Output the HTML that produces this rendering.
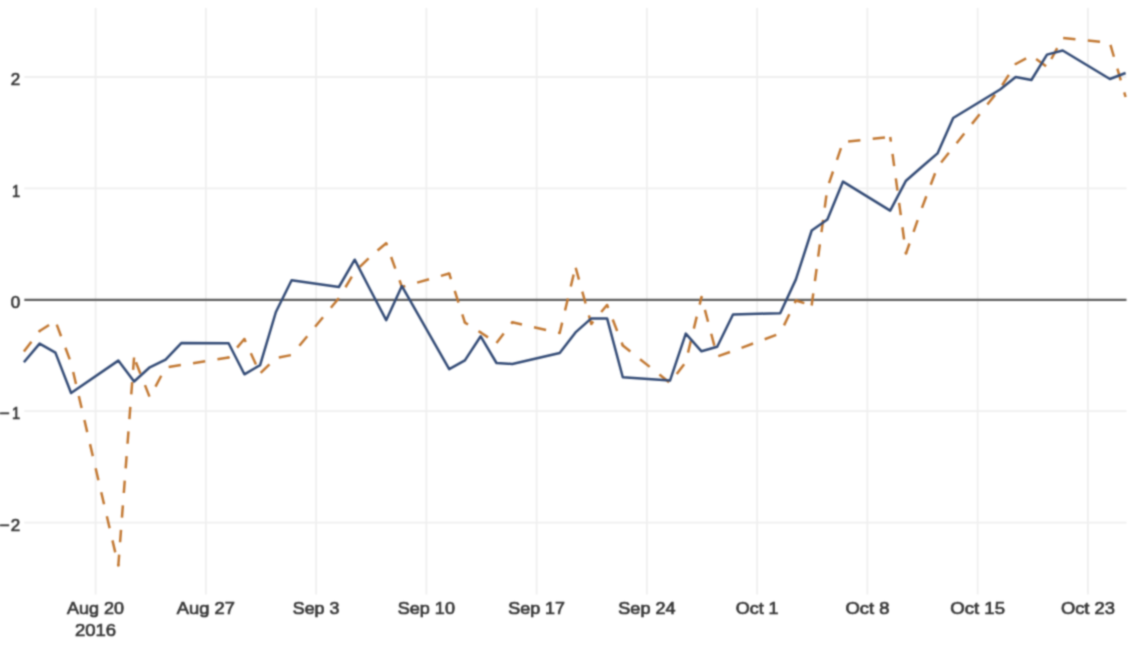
<!DOCTYPE html>
<html><head><meta charset="utf-8"><style>
html,body{margin:0;padding:0;background:#fff;}
body{width:1145px;height:654px;overflow:hidden;}
svg{display:block;}
text{font-family:"Liberation Sans",sans-serif;font-size:17.0px;fill:#383838;stroke:#383838;stroke-width:0.7px;}

</style></head><body>
<svg width="1145" height="654" viewBox="0 0 1145 654">
<defs><filter id="bl" x="0" y="0" width="1145" height="654" filterUnits="userSpaceOnUse" color-interpolation-filters="sRGB"><feConvolveMatrix order="5" kernelMatrix="0.00023 0.00332 0.00809 0.00332 0.00023 0.00332 0.04785 0.11640 0.04785 0.00332 0.00809 0.11640 0.28313 0.11640 0.00809 0.00332 0.04785 0.11640 0.04785 0.00332 0.00023 0.00332 0.00809 0.00332 0.00023" edgeMode="duplicate"/></filter></defs>
<g filter="url(#bl)">
<rect width="1145" height="654" fill="#fff"/>
<line x1="24.3" x2="1126.5" y1="77.0" y2="77.0" stroke="#efefef" stroke-width="1.8"/>
<line x1="24.3" x2="1126.5" y1="188.4" y2="188.4" stroke="#efefef" stroke-width="1.8"/>
<line x1="24.3" x2="1126.5" y1="411.2" y2="411.2" stroke="#efefef" stroke-width="1.8"/>
<line x1="24.3" x2="1126.5" y1="522.6" y2="522.6" stroke="#efefef" stroke-width="1.8"/>
<line x1="95.6" x2="95.6" y1="8.0" y2="594.5" stroke="#efefef" stroke-width="1.8"/>
<line x1="205.86" x2="205.86" y1="8.0" y2="594.5" stroke="#efefef" stroke-width="1.8"/>
<line x1="316.12" x2="316.12" y1="8.0" y2="594.5" stroke="#efefef" stroke-width="1.8"/>
<line x1="426.38" x2="426.38" y1="8.0" y2="594.5" stroke="#efefef" stroke-width="1.8"/>
<line x1="536.64" x2="536.64" y1="8.0" y2="594.5" stroke="#efefef" stroke-width="1.8"/>
<line x1="646.9" x2="646.9" y1="8.0" y2="594.5" stroke="#efefef" stroke-width="1.8"/>
<line x1="757.16" x2="757.16" y1="8.0" y2="594.5" stroke="#efefef" stroke-width="1.8"/>
<line x1="867.42" x2="867.42" y1="8.0" y2="594.5" stroke="#efefef" stroke-width="1.8"/>
<line x1="977.68" x2="977.68" y1="8.0" y2="594.5" stroke="#efefef" stroke-width="1.8"/>
<line x1="1087.94" x2="1087.94" y1="8.0" y2="594.5" stroke="#efefef" stroke-width="1.8"/>
<line x1="24.3" x2="1126.5" y1="299.8" y2="299.8" stroke="#5e5e5e" stroke-width="2.2"/>
<g fill="none" stroke="#c27832" stroke-width="2.5" stroke-dasharray="12.35,12.35">
<path d="M23.90,351.50 L39.64,331.00" stroke-dashoffset="24.69"/>
<path d="M39.64,331.00 L55.37,321.00" stroke-dashoffset="1.17"/>
<path d="M55.37,321.00 L71.11,363.00" stroke-dashoffset="20.80"/>
<path d="M71.11,363.00 L118.32,565.50" stroke-dashoffset="15.50"/>
<path d="M118.32,565.50 L134.06,357.50" stroke-dashoffset="1.38"/>
<path d="M134.06,357.50 L149.82,397.50" stroke-dashoffset="19.67"/>
<path d="M149.82,397.50 L165.58,367.50" stroke-dashoffset="12.50"/>
<path d="M165.58,367.50 L181.34,365.00" stroke-dashoffset="21.59"/>
<path d="M181.34,365.00 L228.61,357.50" stroke-dashoffset="12.86"/>
<path d="M228.61,357.50 L244.37,339.00" stroke-dashoffset="11.65"/>
<path d="M244.37,339.00 L260.13,373.50" stroke-dashoffset="9.13"/>
<path d="M260.13,373.50 L275.89,358.00" stroke-dashoffset="23.96"/>
<path d="M275.89,358.00 L291.65,355.00" stroke-dashoffset="21.76"/>
<path d="M291.65,355.00 L338.92,298.00" stroke-dashoffset="12.65"/>
<path d="M338.92,298.00 L354.68,272.00" stroke-dashoffset="12.12"/>
<path d="M354.68,272.00 L370.43,256.50" stroke-dashoffset="17.49"/>
<path d="M370.43,256.50 L386.18,243.30" stroke-dashoffset="15.45"/>
<path d="M386.18,243.30 L401.93,287.00" stroke-dashoffset="10.10"/>
<path d="M401.93,287.00 L449.18,273.50" stroke-dashoffset="8.87"/>
<path d="M449.18,273.50 L464.93,322.60" stroke-dashoffset="6.48"/>
<path d="M464.93,322.60 L480.68,332.50" stroke-dashoffset="8.68"/>
<path d="M480.68,332.50 L496.48,343.00" stroke-dashoffset="3.56"/>
<path d="M496.48,343.00 L512.28,322.30" stroke-dashoffset="0.41"/>
<path d="M512.28,322.30 L559.68,333.00" stroke-dashoffset="2.40"/>
<path d="M559.68,333.00 L575.47,267.00" stroke-dashoffset="1.65"/>
<path d="M575.47,267.00 L591.27,324.00" stroke-dashoffset="23.88"/>
<path d="M591.27,324.00 L607.07,305.00" stroke-dashoffset="9.17"/>
<path d="M607.07,305.00 L622.81,345.50" stroke-dashoffset="9.18"/>
<path d="M622.81,345.50 L670.02,383.00" stroke-dashoffset="2.67"/>
<path d="M670.02,383.00 L685.76,362.00" stroke-dashoffset="13.53"/>
<path d="M685.76,362.00 L701.50,297.00" stroke-dashoffset="15.07"/>
<path d="M701.50,297.00 L717.23,356.50" stroke-dashoffset="11.40"/>
<path d="M717.23,356.50 L732.97,351.00" stroke-dashoffset="23.55"/>
<path d="M732.97,351.00 L780.18,333.50" stroke-dashoffset="15.58"/>
<path d="M780.18,333.50 L795.92,300.50" stroke-dashoffset="15.74"/>
<path d="M795.92,300.50 L811.66,305.50" stroke-dashoffset="3.51"/>
<path d="M811.66,305.50 L827.39,188.00" stroke-dashoffset="0.04"/>
<path d="M827.39,188.00 L843.03,142.00" stroke-dashoffset="19.62"/>
<path d="M843.03,142.00 L890.24,137.00" stroke-dashoffset="19.58"/>
<path d="M890.24,137.00 L905.98,253.50" stroke-dashoffset="7.69"/>
<path d="M905.98,253.50 L921.72,208.50" stroke-dashoffset="1.74"/>
<path d="M921.72,208.50 L937.45,167.00" stroke-dashoffset="24.02"/>
<path d="M937.45,167.00 L953.19,147.50" stroke-dashoffset="18.85"/>
<path d="M953.19,147.50 L1000.10,88.50" stroke-dashoffset="19.22"/>
<path d="M1000.10,88.50 L1015.74,64.00" stroke-dashoffset="20.86"/>
<path d="M1015.74,64.00 L1031.38,55.50" stroke-dashoffset="0.53"/>
<path d="M1031.38,55.50 L1047.01,67.00" stroke-dashoffset="18.79"/>
<path d="M1047.01,67.00 L1062.65,38.00" stroke-dashoffset="15.59"/>
<path d="M1062.65,38.00 L1109.86,42.80" stroke-dashoffset="24.16"/>
<path d="M1109.86,42.80 L1125.60,97.00" stroke-dashoffset="22.53"/>
<circle cx="39.64" cy="331.00" r="1.250" fill="#c27832" stroke="none"/>
<circle cx="118.32" cy="565.50" r="1.250" fill="#c27832" stroke="none"/>
<circle cx="228.61" cy="357.50" r="1.250" fill="#c27832" stroke="none"/>
<circle cx="244.37" cy="339.00" r="1.250" fill="#c27832" stroke="none"/>
<circle cx="386.18" cy="243.30" r="1.250" fill="#c27832" stroke="none"/>
<circle cx="401.93" cy="287.00" r="1.250" fill="#c27832" stroke="none"/>
<circle cx="449.18" cy="273.50" r="1.250" fill="#c27832" stroke="none"/>
<circle cx="464.93" cy="322.60" r="1.250" fill="#c27832" stroke="none"/>
<circle cx="480.68" cy="332.50" r="1.250" fill="#c27832" stroke="none"/>
<circle cx="512.28" cy="322.30" r="1.250" fill="#c27832" stroke="none"/>
<circle cx="559.68" cy="333.00" r="1.250" fill="#c27832" stroke="none"/>
<circle cx="591.27" cy="324.00" r="1.250" fill="#c27832" stroke="none"/>
<circle cx="607.07" cy="305.00" r="1.250" fill="#c27832" stroke="none"/>
<circle cx="622.81" cy="345.50" r="1.250" fill="#c27832" stroke="none"/>
<circle cx="701.50" cy="297.00" r="1.250" fill="#c27832" stroke="none"/>
<circle cx="795.92" cy="300.50" r="1.250" fill="#c27832" stroke="none"/>
<circle cx="905.98" cy="253.50" r="1.250" fill="#c27832" stroke="none"/>
<circle cx="1015.74" cy="64.00" r="1.250" fill="#c27832" stroke="none"/>
</g>
<path d="M23.9,362.3 L39.6,343.6 L55.4,352.6 L71.1,393.0 L118.3,360.6 L134.1,381.5 L149.8,367.3 L165.6,359.6 L181.3,343.1 L228.6,343.2 L244.4,374.3 L260.1,365.2 L275.9,312.0 L291.6,280.3 L338.9,287.0 L354.7,259.7 L370.4,290.0 L386.2,320.2 L401.9,286.1 L449.2,369.2 L464.9,360.4 L480.7,336.3 L496.5,363.0 L512.3,364.0 L559.7,353.0 L575.5,332.4 L591.3,318.4 L607.1,318.4 L622.8,377.2 L670.0,380.6 L685.8,333.6 L701.5,351.3 L717.2,346.8 L733.0,314.5 L780.2,313.2 L795.9,279.4 L811.7,230.5 L827.4,219.5 L843.0,181.6 L890.2,210.6 L906.0,180.7 L921.7,167.0 L937.5,153.4 L953.2,118.0 L1000.1,89.5 L1015.7,77.0 L1031.4,80.0 L1047.0,54.6 L1062.7,50.5 L1109.9,79.0 L1125.6,73.0" fill="none" stroke="#334b76" stroke-width="2.5" stroke-linejoin="round"/>
<text x="20.3" y="85.2" text-anchor="end">2</text>
<text x="20.3" y="196.6" text-anchor="end" textLength="8.2" lengthAdjust="spacingAndGlyphs">1</text>
<text x="20.3" y="308.0" text-anchor="end">0</text>
<text x="20.3" y="419.4" text-anchor="end" textLength="8.2" lengthAdjust="spacingAndGlyphs">1</text>
<text x="9.6" y="419.4" text-anchor="end">−</text>
<text x="20.3" y="530.8" text-anchor="end">2</text>
<text x="9.6" y="530.8" text-anchor="end">−</text>
<text x="95.6" y="614.4" text-anchor="middle" textLength="56.98" lengthAdjust="spacingAndGlyphs">Aug 20</text>
<text x="205.86" y="614.4" text-anchor="middle" textLength="58.14" lengthAdjust="spacingAndGlyphs">Aug 27</text>
<text x="316.12" y="614.4" text-anchor="middle" textLength="46.46" lengthAdjust="spacingAndGlyphs">Sep 3</text>
<text x="426.38" y="614.4" text-anchor="middle" textLength="57.11" lengthAdjust="spacingAndGlyphs">Sep 10</text>
<text x="536.64" y="614.4" text-anchor="middle" textLength="56.81" lengthAdjust="spacingAndGlyphs">Sep 17</text>
<text x="646.9" y="614.4" text-anchor="middle" textLength="57.11" lengthAdjust="spacingAndGlyphs">Sep 24</text>
<text x="757.16" y="614.4" text-anchor="middle" textLength="42.77" lengthAdjust="spacingAndGlyphs">Oct 1</text>
<text x="867.42" y="614.4" text-anchor="middle" textLength="43.92" lengthAdjust="spacingAndGlyphs">Oct 8</text>
<text x="977.68" y="614.4" text-anchor="middle" textLength="54.76" lengthAdjust="spacingAndGlyphs">Oct 15</text>
<text x="1087.94" y="614.4" text-anchor="middle" textLength="54.03" lengthAdjust="spacingAndGlyphs">Oct 23</text>
<text x="95.6" y="636.2" text-anchor="middle" textLength="41.15" lengthAdjust="spacingAndGlyphs">2016</text>
</g>
</svg>
</body></html>
